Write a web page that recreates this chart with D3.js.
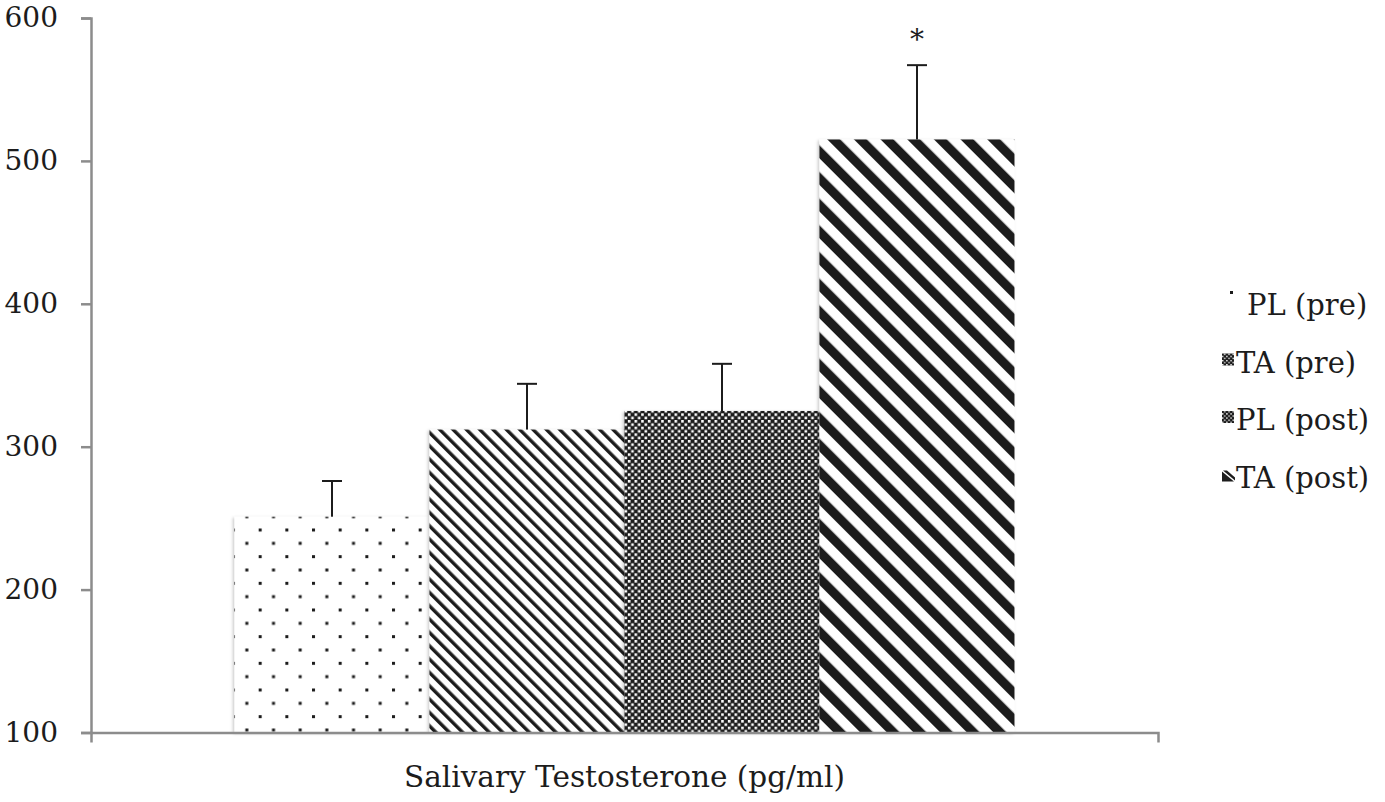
<!DOCTYPE html>
<html>
<head>
<meta charset="utf-8">
<script src="https://cdn.jsdelivr.net/npm/d3@7"></script>
<style>
  html, body { margin: 0; padding: 0; background: #fff; }
  svg { display: block; }
</style>
</head>
<body>
<svg id="chart" width="1385" height="802"></svg>
<script>
// ---- data ----
const categories = ["Salivary Testosterone (pg/ml)"];
const seriesNames = ["PL (pre)", "TA (pre)", "PL (post)", "TA (post)"];
const means = [251, 312, 325, 515];
const errors = [25, 32, 33, 52];
const significance = ["", "", "", "*"];
const yTicks = [100, 200, 300, 400, 500, 600];
const legendLabels = ["PL (pre)", "TA (pre)", "PL (post)", "TA (post)"];

// ---- layout ----
const W = 1385, H = 802;
const plot = { left: 91, right: 1158, top: 18, bottom: 732.5 };
const fontFam = "'DejaVu Serif', serif";
const axisColor = "#8c8c8c";
const ink = "#1c1c1c";

const svg = d3.select("#chart");
const defs = svg.append("defs");

// patterns
const U = 26.667 / 8; // base pattern unit
function dotsPattern(id) {
  const p = defs.append("pattern").attr("id", id).attr("patternUnits", "userSpaceOnUse")
    .attr("width", 8 * U).attr("height", 8 * U).attr("x", 239 - 1.5).attr("y", 530 - 1.5);
  p.append("rect").attr("width", 8 * U).attr("height", 8 * U).attr("fill", "#fff");
  p.append("rect").attr("x", 0).attr("y", 0).attr("width", 3).attr("height", 3).attr("fill", ink);
  p.append("rect").attr("x", 4 * U).attr("y", 4 * U).attr("width", 3).attr("height", 3).attr("fill", ink);
}
function stripePattern(id, period, lineW) {
  const s = period / Math.SQRT2;
  const p = defs.append("pattern").attr("id", id).attr("patternUnits", "userSpaceOnUse")
    .attr("width", s).attr("height", s).attr("patternTransform", "rotate(-45)");
  p.append("rect").attr("width", s).attr("height", s).attr("fill", "#fff");
  p.append("rect").attr("x", 0).attr("y", 0).attr("width", lineW).attr("height", s).attr("fill", ink);
}
function checkerPattern(id, cell, whiteSize) {
  const p = defs.append("pattern").attr("id", id).attr("patternUnits", "userSpaceOnUse")
    .attr("width", cell * 2).attr("height", cell * 2);
  p.append("rect").attr("width", cell * 2).attr("height", cell * 2).attr("fill", ink);
  p.append("rect").attr("x", 0).attr("y", 0).attr("width", whiteSize).attr("height", whiteSize).attr("fill", "#fff");
  p.append("rect").attr("x", cell).attr("y", cell).attr("width", whiteSize).attr("height", whiteSize).attr("fill", "#fff");
}
dotsPattern("pat0");
stripePattern("pat1", 4 * U, 3.4);
checkerPattern("pat2", U, 2.6);
stripePattern("pat3", 8 * U, 9.2);
checkerPattern("patL", 2.1, 1.4);

const shadow = defs.append("filter").attr("id", "shadow")
  .attr("x", "-5%").attr("y", "-5%").attr("width", "110%").attr("height", "110%");
shadow.append("feDropShadow").attr("dx", -1.5).attr("dy", 1).attr("stdDeviation", 1.5)
  .attr("flood-color", "#000").attr("flood-opacity", 0.22);

// ---- scales ----
const y = d3.scaleLinear().domain([100, 600]).range([plot.bottom, plot.top]);
const x0 = d3.scaleBand().domain(categories).range([plot.left, plot.right])
  .paddingInner(0).paddingOuter(0.184);
const x1 = d3.scaleBand().domain(seriesNames).range([0, x0.bandwidth()]).padding(0);

const data = seriesNames.map((s, i) => ({ name: s, mean: means[i], err: errors[i], sig: significance[i], i }));

const g = svg.append("g").attr("transform", `translate(${x0(categories[0])},0)`);

// bars
g.selectAll("rect.bar").data(data).join("rect")
  .attr("class", "bar")
  .attr("x", d => x1(d.name))
  .attr("width", x1.bandwidth())
  .attr("y", d => y(d.mean))
  .attr("height", d => y(100) - y(d.mean))
  .attr("fill", d => `url(#pat${d.i})`)
  .attr("filter", "url(#shadow)");

// error bars
const capW = 20;
const eb = g.selectAll("g.err").data(data).join("g").attr("class", "err")
  .attr("transform", d => `translate(${x1(d.name) + x1.bandwidth() / 2},0)`);
eb.append("line").attr("x1", 0).attr("x2", 0)
  .attr("y1", d => y(d.mean)).attr("y2", d => y(d.mean + d.err))
  .attr("stroke", ink).attr("stroke-width", 2);
eb.append("line").attr("x1", -capW / 2).attr("x2", capW / 2)
  .attr("y1", d => y(d.mean + d.err)).attr("y2", d => y(d.mean + d.err))
  .attr("stroke", ink).attr("stroke-width", 2);
eb.append("text").text(d => d.sig)
  .attr("x", 0).attr("y", d => y(d.mean + d.err) - 16)
  .attr("text-anchor", "middle")
  .attr("font-family", fontFam).attr("font-size", 28).attr("fill", ink);

// y axis
const yAxis = svg.append("g").attr("transform", `translate(${plot.left},0)`)
  .call(d3.axisLeft(y).tickValues(yTicks).tickSize(10).tickSizeOuter(10).tickPadding(23).tickFormat(d3.format("d")));
yAxis.select(".domain").attr("stroke", axisColor).attr("stroke-width", 2.5);
yAxis.selectAll(".tick line").attr("stroke", axisColor).attr("stroke-width", 2.5);
yAxis.selectAll(".tick text").attr("font-family", fontFam).attr("font-size", 28).attr("fill", ink);

// x axis
const xAxis = svg.append("g").attr("transform", `translate(0,${plot.bottom})`)
  .call(d3.axisBottom(x0).tickSize(0).tickSizeOuter(10).tickPadding(0));
xAxis.select(".domain").attr("stroke", axisColor).attr("stroke-width", 2.5);
xAxis.selectAll(".tick text").attr("font-family", fontFam).attr("font-size", 29.5).attr("fill", ink)
  .attr("y", 54).attr("dy", 0);

// legend
const legStart = 315, legStep = 57.5;
const leg = svg.append("g").selectAll("g").data(legendLabels).join("g")
  .attr("transform", (d, i) => `translate(1222,${legStart + i * legStep})`);
leg.each(function (d, i) {
  const el = d3.select(this);
  if (i === 0) {
    el.append("rect").attr("x", 8).attr("y", -24).attr("width", 3).attr("height", 3).attr("fill", ink);
  } else if (i === 3) {
    el.append("path").attr("d", "M0,-16 L0,-6 L12,-6 Z").attr("fill", ink);
    el.append("path").attr("d", "M1,-17 L5,-17 L13,-10 L13,-7 Z").attr("fill", ink);
  } else {
    el.append("rect").attr("x", 0).attr("y", -19).attr("width", 12).attr("height", 12).attr("fill", "url(#patL)");
  }
  el.append("text").text(d).attr("x", i === 0 ? 25 : 14).attr("y", 0)
    .attr("font-family", fontFam).attr("font-size", 29).attr("fill", ink);
});
</script>
</body>
</html>
